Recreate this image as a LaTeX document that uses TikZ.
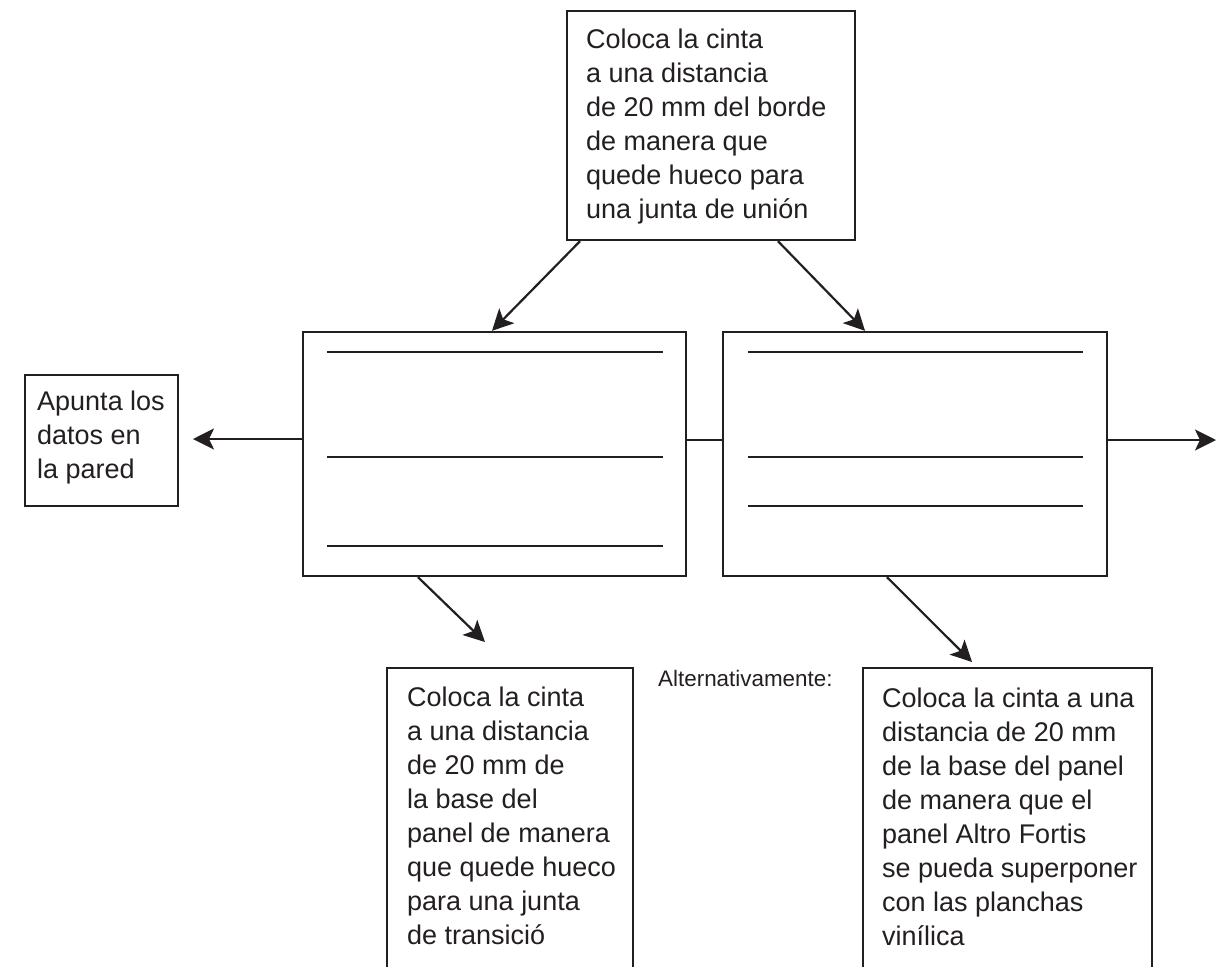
\documentclass[tikz,border=0pt]{standalone}
\usepackage{fontspec}
\setmainfont{Liberation Sans}
\usetikzlibrary{arrows.meta}
\definecolor{ink}{HTML}{231F20}
\begin{document}
\begin{tikzpicture}[x=1pt,y=-1pt,
  box/.style={draw=ink, line width=2.4pt, rectangle, inner sep=0pt},
  frame/.style={rectangle, inner sep=0pt},
  txt/.style={align=left, anchor=north west, inner sep=0pt, text=ink,
    font=\fontsize{27}{34}\selectfont},
  rulerline/.style={draw=ink, line width=2.8pt},
  arr/.style={draw=ink, line width=2.2pt, -{Stealth[length=21pt,width=21pt,inset=5pt]}},
  link/.style={draw=ink, line width=2.4pt}]
\useasboundingbox[fill=white] (0,0) rectangle (1223,967);

% boxes
\node[box, minimum width=288pt, minimum height=229pt] (top) at (711,125.5) {};
\node[box, minimum width=153pt, minimum height=131pt] (wall) at (101.5,440.5) {};
\node[box, minimum width=383pt, minimum height=244pt] (lp) at (494.5,454) {};
\node[box, minimum width=384pt, minimum height=244pt] (rp) at (915,454) {};
\node[frame, minimum width=246pt, minimum height=299pt, anchor=north] (bl) at (510,668) {};
\node[frame, minimum width=289pt, minimum height=299pt, anchor=north] (br) at (1007.5,668) {};
\draw[link] (bl.south west) -- (bl.north west) -- (bl.north east) -- (bl.south east);
\draw[link] (br.south west) -- (br.north west) -- (br.north east) -- (br.south east);

% lines inside panels
\draw[rulerline] (327,352) -- (663,352);
\draw[rulerline] (327,457) -- (663,457);
\draw[rulerline] (327,546) -- (663,546);
\draw[rulerline] (748,352) -- (1083,352);
\draw[rulerline] (748,457) -- (1083,457);
\draw[rulerline] (748,506) -- (1083,506);

% texts
\node[txt] (ttop) at (586,29) {Coloca la cinta\\a una distancia\\de 20 mm del borde\\de manera que\\quede hueco para\\una junta de unión};
\node[txt] (twall) at (37,391) {Apunta los\\datos en\\la pared};
\node[txt] (tbl) at (407,687) {Coloca la cinta\\a una distancia\\de 20 mm de\\la base del\\panel de manera\\que quede hueco\\para una junta\\de transició};
\node[txt] (tbr) at (882,688) {Coloca la cinta a una\\distancia de 20 mm\\de la base del panel\\de manera que el\\panel Altro Fortis\\se pueda superponer\\con las planchas\\vinílica};
\node[anchor=base west, inner sep=0pt, text=ink, font=\fontsize{22.4}{26}\selectfont] (alt) at (658,686) {Alternativamente:};

% connectors
\coordinate (lend) at (193,439);
\coordinate (rend) at (1216,440);
\draw[arr] (lp.west |- 0,439) -- (lend);
\draw[link] (lp.east |- 0,440) -- (rp.west |- 0,440);
\draw[arr] (rp.east |- 0,440) -- (rend);
\draw[arr] (580,0 |- top.south) -- (492,0 |- lp.north);
\draw[arr] (778,0 |- top.south) -- (865,0 |- rp.north);
\draw[arr] (418,0 |- lp.south) -- (485,642);
\draw[arr] (887,0 |- rp.south) -- (972,662);
\end{tikzpicture}
\end{document}
